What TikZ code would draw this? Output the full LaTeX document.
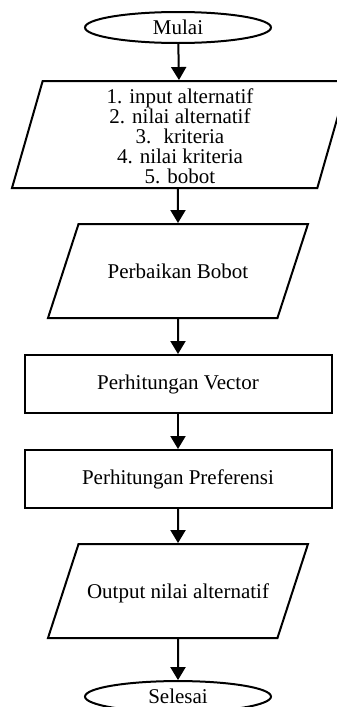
\documentclass[tikz,border=0pt]{standalone}
\usepackage{fontspec}
\setmainfont{Liberation Serif}
\usetikzlibrary{positioning, shapes.geometric, arrows.meta}

\begin{document}
\begin{tikzpicture}[
    x=1pt, y=1pt,
    node distance=35pt,
    font=\fontsize{21}{20}\selectfont,
    line width=2pt,
    terminal/.style={draw, ellipse, inner sep=0pt, minimum width=186pt, minimum height=31pt},
    io/.style={draw, trapezium, trapezium left angle=72, trapezium right angle=108,
        trapezium stretches body, inner ysep=0pt, text height=54pt, text depth=40pt,
        minimum width=260pt, align=center},
    process/.style={draw, rectangle, minimum width=307pt, minimum height=58pt},
    flow/.style={-{Triangle[length=13pt, width=15pt]}}]
    \useasboundingbox (0,0) rectangle (337,-707);
    % Start and input
    \node[terminal] (mulai) at (178,-27.5) {Mulai};
    \node[io, below=36pt of mulai, xshift=2pt, minimum width=336pt, text height=102.5pt,
        text depth=4.5pt, trapezium left angle=74, trapezium right angle=106] (input)
        {1. input alternatif\\2. nilai alternatif\\3.~ kriteria\\4. nilai kriteria\\5. bobot};
    % Processing steps
    \node[io, below=34pt of input, xshift=-2pt] (perbaikan) {Perbaikan Bobot};
    \node[process, below=of perbaikan] (vektor) {Perhitungan Vector};
    \node[process, below=of vektor] (preferensi) {Perhitungan Preferensi};
    \node[io, below=34pt of preferensi] (output) {Output nilai alternatif};
    \node[terminal, below=41pt of output] (selesai) {Selesai};
    % Arrows
    \draw[flow] (mulai) -- (input);
    \draw[flow] (input.south -| perbaikan) -- (perbaikan);
    \draw[flow] (perbaikan) -- (vektor);
    \draw[flow] (vektor) -- (preferensi);
    \draw[flow] (preferensi) -- (output);
    \draw[flow] (output) -- (selesai);
\end{tikzpicture}
\end{document}
